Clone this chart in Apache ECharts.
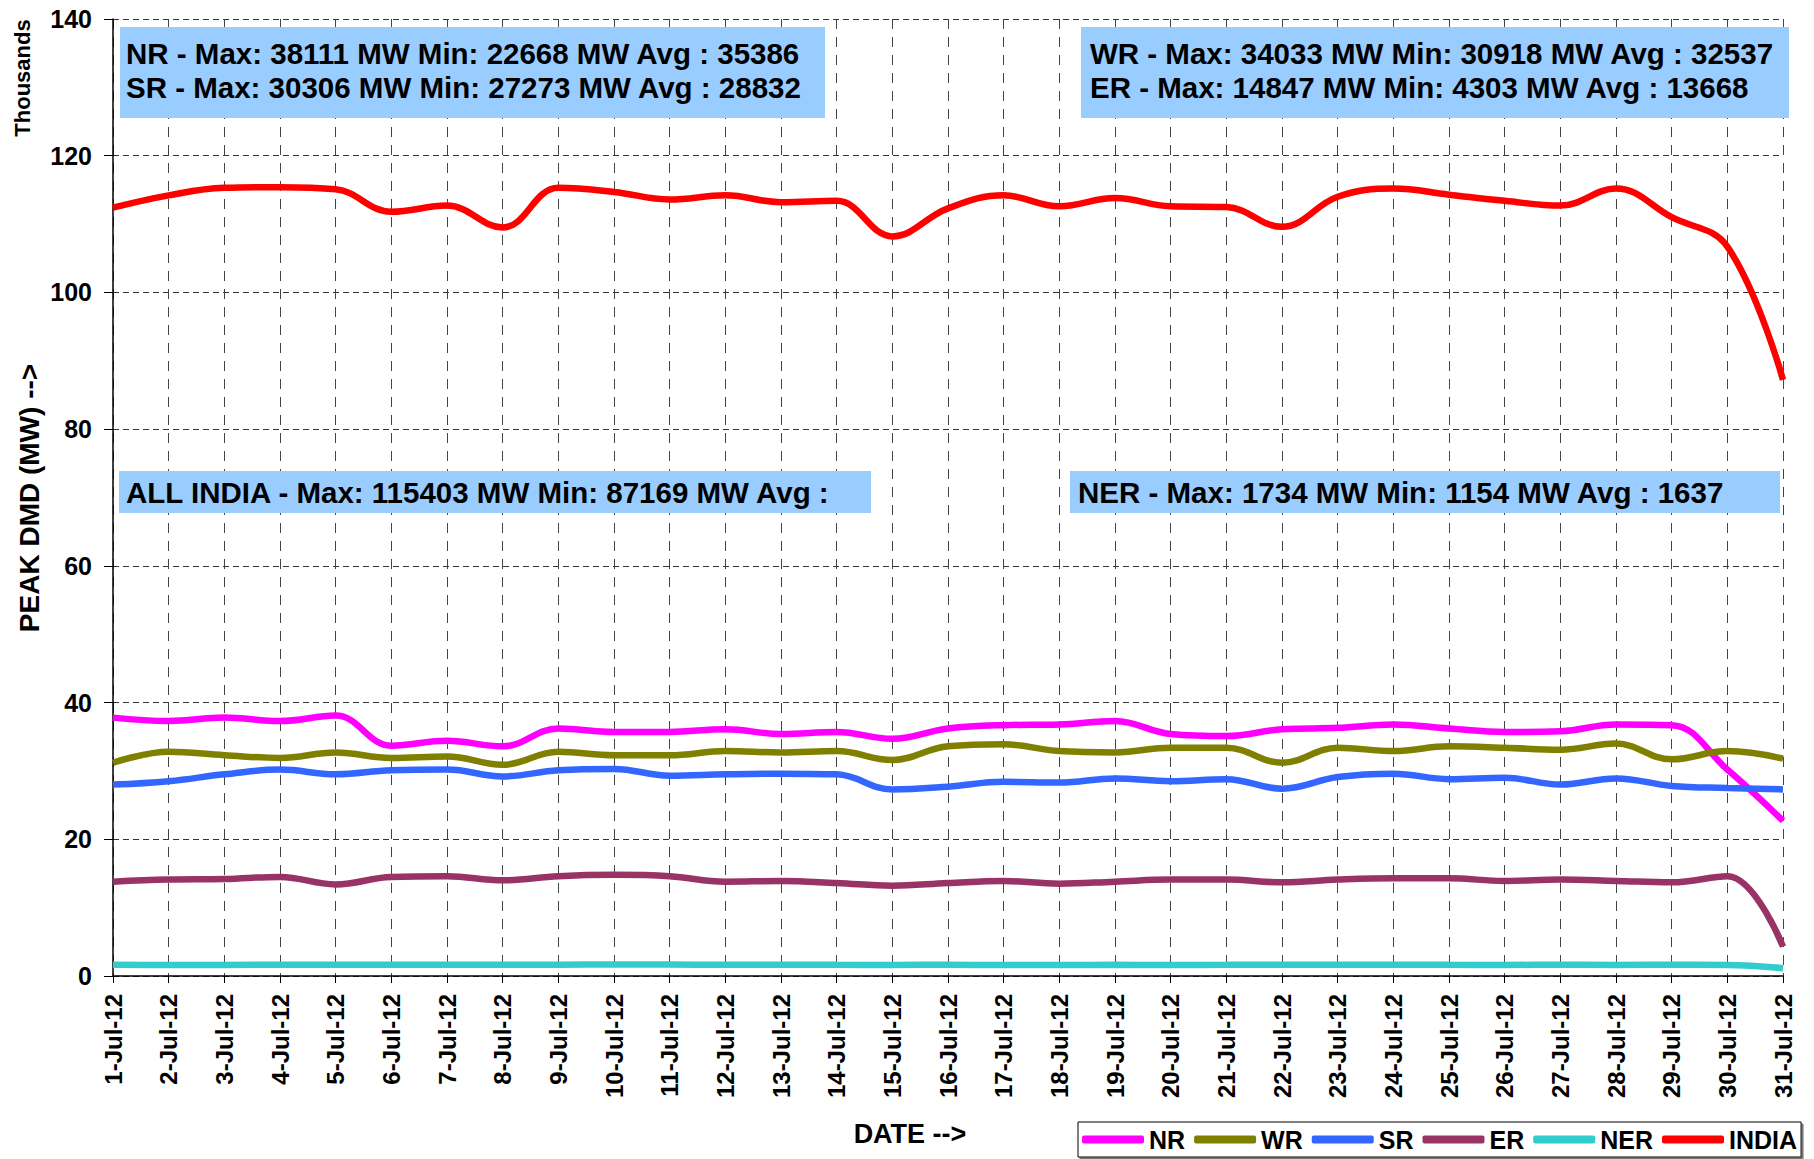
<!DOCTYPE html>
<html lang="en">
<head>
    <meta charset="UTF-8">
    <script src="https://cdn.jsdelivr.net/npm/echarts@6/dist/echarts.min.js"></script>
    <title>Peak Demand July 2012</title>
    <style>
      html, body { margin: 0; padding: 0; background: #fff; }
      #main { width: 1814px; height: 1159px; }
    </style>
</head>
<body>
  <div id="main"></div>
  <script>
    // values in thousands of MW
    var days = [];
    for (var d = 1; d <= 31; d++) days.push(d + '-Jul-12');

    var nr = [37.8, 37.3, 37.8, 37.3, 38.1, 33.7, 34.4, 33.6, 36.2, 35.7, 35.7, 36.1, 35.4, 35.7, 34.7, 36.2,
              36.7, 36.8, 37.3, 35.4, 35.1, 36.1, 36.3, 36.8, 36.2, 35.7, 35.8, 36.8, 36.7, 30.2, 22.7];
    var wr = [31.2, 32.8, 32.3, 31.9, 32.7, 31.9, 32.1, 30.9, 32.8, 32.3, 32.3, 32.9, 32.7, 32.9, 31.6, 33.6,
              33.9, 32.9, 32.7, 33.4, 33.4, 31.2, 33.4, 32.9, 33.6, 33.4, 33.1, 34.0, 31.7, 32.9, 31.8];
    var sr = [28.0, 28.5, 29.5, 30.2, 29.5, 30.1, 30.2, 29.2, 30.1, 30.3, 29.3, 29.5, 29.6, 29.5, 27.3, 27.7,
              28.4, 28.3, 28.9, 28.5, 28.8, 27.4, 29.1, 29.6, 28.8, 29.0, 28.0, 28.9, 27.8, 27.5, 27.3];
    var er = [13.8, 14.1, 14.2, 14.5, 13.4, 14.5, 14.6, 14.0, 14.6, 14.8, 14.6, 13.8, 13.9, 13.6, 13.2, 13.6,
              13.9, 13.5, 13.8, 14.1, 14.1, 13.7, 14.1, 14.3, 14.3, 13.9, 14.1, 13.9, 13.7, 14.6, 4.3];
    var ner = [1.65, 1.60, 1.62, 1.65, 1.63, 1.64, 1.66, 1.65, 1.66, 1.70, 1.68, 1.64, 1.65, 1.63, 1.62, 1.64,
               1.60, 1.62, 1.63, 1.62, 1.63, 1.66, 1.64, 1.65, 1.63, 1.62, 1.64, 1.62, 1.65, 1.62, 1.15];
    var india = [112.4, 114.2, 115.3, 115.4, 115.1, 111.8, 112.7, 109.5, 115.3, 114.7, 113.6, 114.2, 113.2, 113.4, 108.2, 112.3,
                 114.2, 112.6, 113.8, 112.6, 112.5, 109.6, 114.0, 115.2, 114.3, 113.4, 112.7, 115.2, 111.0, 106.7, 87.2];

    var seriesNames = ['NR', 'WR', 'SR', 'ER', 'NER', 'INDIA'];
    var seriesColors = ['#FF00FF', '#808000', '#3366FF', '#993366', '#33CCCC', '#FF0000'];
    var seriesData = [nr, wr, sr, er, ner, india];

    var statLines = [
      'NR - Max: 38111 MW Min: 22668 MW Avg : 35386',
      'SR - Max: 30306 MW Min: 27273 MW Avg : 28832',
      'WR - Max: 34033 MW Min: 30918 MW Avg : 32537',
      'ER - Max: 14847 MW Min: 4303 MW Avg : 13668',
      'ALL INDIA - Max: 115403 MW Min: 87169 MW Avg :',
      'NER - Max: 1734 MW Min: 1154 MW Avg : 1637'
    ];

    var FONT = "'Liberation Sans', Arial, sans-serif";
    var chart = echarts.init(document.getElementById('main'), null, { renderer: 'svg' });

    var series = seriesNames.map(function (name, i) {
      return {
        name: name,
        type: 'line',
        data: seriesData[i],
        smooth: 0.4,
        symbol: 'none',
        lineStyle: { color: seriesColors[i], width: 6.5 },
        itemStyle: { color: seriesColors[i] }
      };
    });

    function box(x, y, w, h) {
      return { type: 'rect', shape: { x: x, y: y, width: w, height: h }, style: { fill: '#99CCFF' }, z: 50 };
    }
    function label(txt, x, y, size, rot, align) {
      return {
        type: 'text', x: x, y: y, rotation: rot || 0, z: 51,
        style: { text: txt, font: 'bold ' + size + 'px ' + FONT, fill: '#000',
                 align: align || 'left', verticalAlign: 'middle' }
      };
    }

    chart.setOption({
      animation: false,
      backgroundColor: '#fff',
      grid: { left: 113, right: 31, top: 19, bottom: 183 },
      legend: {
        data: seriesNames,
        left: 1078, top: 1122,
        icon: 'roundRect',
        itemWidth: 62, itemHeight: 8, itemGap: 9,
        padding: [5, 4],
        borderColor: '#000', borderWidth: 1,
        backgroundColor: '#fff',
        shadowColor: '#777', shadowOffsetX: 2, shadowOffsetY: 2, shadowBlur: 0,
        textStyle: { fontFamily: FONT, fontWeight: 'bold', fontSize: 25, color: '#000', padding: [0, 0, 0, 0] }
      },
      xAxis: {
        type: 'category',
        data: days,
        boundaryGap: false,
        axisLine: { lineStyle: { color: '#000', width: 1.5 } },
        axisTick: { show: true, length: 7, interval: 0, lineStyle: { color: '#000' } },
        axisLabel: { interval: 0, rotate: 90, margin: 18, fontFamily: FONT, fontWeight: 'bold', fontSize: 24, color: '#000' },
        splitLine: { show: true, interval: 0, lineStyle: { color: '#444', type: [10, 8], width: 1 } }
      },
      yAxis: {
        type: 'value',
        min: 0, max: 140, interval: 20,
        axisLine: { show: true, lineStyle: { color: '#000', width: 1.5 } },
        axisTick: { show: true, length: 9, lineStyle: { color: '#000' } },
        axisLabel: { margin: 21, fontFamily: FONT, fontWeight: 'bold', fontSize: 25, color: '#000' },
        splitLine: { show: true, lineStyle: { color: '#333', type: [6, 4], width: 1 } }
      },
      graphic: [
        box(120, 27, 705, 91),
        label(statLines[0], 126, 53, 29.5),
        label(statLines[1], 126, 87, 29.5),
        box(1081, 27, 708, 91),
        label(statLines[2], 1090, 53, 29.5),
        label(statLines[3], 1090, 87, 29.5),
        box(119, 471, 752, 42),
        label(statLines[4], 126, 492, 29.5),
        box(1070, 471, 710, 42),
        label(statLines[5], 1078, 492, 29.5),
        label('Thousands', 22, 78, 22, Math.PI / 2, 'center'),
        label('PEAK DMD (MW) -->', 29, 498, 28, Math.PI / 2, 'center'),
        label('DATE -->', 910, 1134, 27, 0, 'center')
      ],
      series: series
    });
  </script>
</body>
</html>
